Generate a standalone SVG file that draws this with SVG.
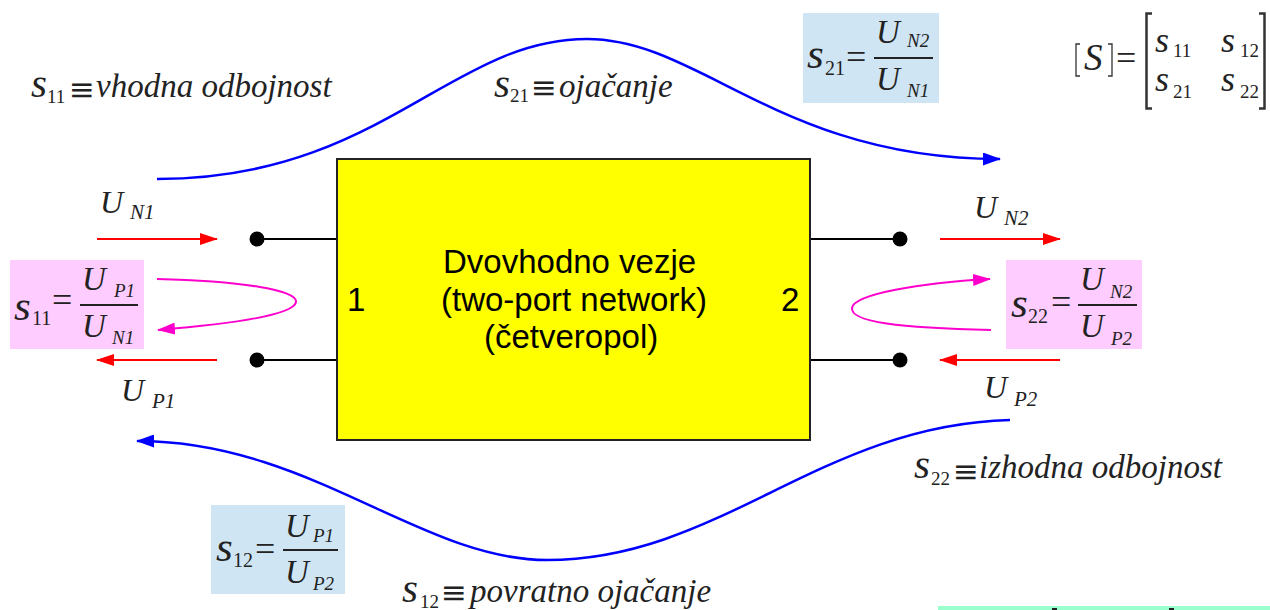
<svg xmlns="http://www.w3.org/2000/svg" width="1270" height="610" viewBox="0 0 1270 610">
<style>
text{fill:#222}
.it{font-family:"Liberation Serif","Times New Roman",serif;font-style:italic}
.rm{font-family:"Liberation Serif","Times New Roman",serif}
.sv{font-size:43px}
.sl{font-size:41px}
.sm{font-size:36px}
.dg{font-size:20px}
.dgs{font-size:19px}
.U{font-size:33px}
.Ul{font-size:32px}
.us{font-size:19px}
.ul{font-size:21px}
.eq{font-size:36px}
.eqv{font-family:"DejaVu Serif","DejaVu Sans",serif;font-size:31px}
.lab{font-size:33px}
.box{font-family:"Liberation Sans",Arial,sans-serif;font-size:33px;fill:#000}
.bar{stroke:#222;stroke-width:2}
.pink{fill:#FFCCFF}
.blue{fill:#CFE5F3}
.term{stroke:#000;stroke-width:2}
.blu{fill:none;stroke:#0000FF;stroke-width:2.5}
.red{fill:none;stroke:#FF0000;stroke-width:2}
.mag{fill:none;stroke:#FF00CC;stroke-width:2}
.brk{fill:none;stroke:#333}
</style>
<defs>
<marker id="ab" markerUnits="userSpaceOnUse" markerWidth="18" markerHeight="13" viewBox="0 0 18 13" refX="17" refY="6.5" orient="auto"><path d="M0,0 L18,6.5 L0,13 z" fill="#0000FF"/></marker>
<marker id="ar" markerUnits="userSpaceOnUse" markerWidth="18" markerHeight="12" viewBox="0 0 18 12" refX="17" refY="6" orient="auto"><path d="M0,0 L18,6 L0,12 z" fill="#FF0000"/></marker>
<marker id="am" markerUnits="userSpaceOnUse" markerWidth="18" markerHeight="12" viewBox="0 0 18 12" refX="17" refY="6" orient="auto"><path d="M0,0 L18,6 L0,12 z" fill="#FF00CC"/></marker>
</defs>
<rect width="1270" height="610" fill="#fff"/>

<g id="connectors">
<path class="blu" d="M157,179 C380,179 450,39 587,39 C700,39 780,159 1000,159" marker-end="url(#ab)"/>
<path class="blu" d="M1010,420 C820,425 720,560 547,560 C420,560 310,441 137,441" marker-end="url(#ab)"/>
<path class="red" d="M97,239 H217" marker-end="url(#ar)"/>
<path class="red" d="M217,360 H97" marker-end="url(#ar)"/>
<path class="red" d="M940,239 H1060" marker-end="url(#ar)"/>
<path class="red" d="M1060,360 H940" marker-end="url(#ar)"/>
<path class="mag" d="M157,279 C240,281 298,290 296,302 C294,315 230,324 158,330" marker-end="url(#am)"/>
<path class="mag" d="M991,330 C900,328 850,322 852,308 C854,294 920,283 990,279" marker-end="url(#am)"/>
<line class="term" x1="257" y1="239" x2="337" y2="239"/>
<line class="term" x1="257" y1="360" x2="337" y2="360"/>
<line class="term" x1="810" y1="239" x2="900" y2="239"/>
<line class="term" x1="810" y1="360" x2="900" y2="360"/>
</g>

<g id="network">
<rect x="337" y="159" width="473" height="281" fill="#FFFF00" stroke="#222" stroke-width="2"/>
<text class="box" x="443" y="273">Dvovhodno vezje</text>
<text class="box" x="441" y="311">(two-port network)</text>
<text class="box" x="484" y="348">(četveropol)</text>
<text class="box" x="347" y="311">1</text>
<text class="box" x="781" y="311">2</text>
</g>

<g id="port1-terminals">
<circle cx="257" cy="239" r="7.5" fill="#000"/>
<circle cx="257" cy="360" r="7.5" fill="#000"/>
</g>
<g id="port2-terminals">
<circle cx="900" cy="239" r="7.5" fill="#000"/>
<circle cx="900" cy="360" r="7.5" fill="#000"/>
</g>

<g id="label-UN1"><text class="it Ul" x="100" y="213">U</text><text class="it ul" x="130" y="219">N1</text></g>
<g id="label-UP1"><text class="it Ul" x="121" y="401">U</text><text class="it ul" x="152" y="408">P1</text></g>
<g id="label-UN2"><text class="it Ul" x="974" y="218">U</text><text class="it ul" x="1004" y="225">N2</text></g>
<g id="label-UP2"><text class="it Ul" x="984" y="398">U</text><text class="it ul" x="1014" y="406">P2</text></g>

<g id="label-s11">
<text class="it sl" x="31" y="97">s</text><text class="rm dgs" x="47" y="103">11</text><text class="eqv" x="69" y="100">≡</text><text class="it lab" x="96" y="97">vhodna odbojnost</text>
</g>
<g id="label-s21">
<text class="it sl" x="494" y="97">s</text><text class="rm dgs" x="510" y="102">21</text><text class="eqv" x="531" y="98">≡</text><text class="it lab" x="559" y="97">ojačanje</text>
</g>
<g id="label-s22">
<text class="it sl" x="914" y="478">s</text><text class="rm dgs" x="931" y="485">22</text><text class="eqv" x="953" y="482">≡</text><text class="it lab" x="979" y="478">izhodna odbojnost</text>
</g>
<g id="label-s12">
<text class="it sl" x="402" y="602">s</text><text class="rm dgs" x="420" y="608">12</text><text class="eqv" x="441" y="603">≡</text><text class="it lab" x="470" y="602">povratno ojačanje</text>
</g>

<g id="formula-s11">
<rect class="pink" x="10" y="260" width="134" height="89"/>
<text class="it sv" x="14" y="320">s</text><text class="rm dg" x="32" y="325">11</text>
<text class="rm eq" x="52" y="312">=</text>
<line class="bar" x1="80" y1="305" x2="138" y2="305"/>
<text class="it U" x="82" y="290">U</text><text class="it us" x="114" y="297">P1</text>
<text class="it U" x="82" y="337">U</text><text class="it us" x="112" y="344">N1</text>
</g>

<g id="formula-s22">
<rect class="pink" x="1006" y="260" width="136" height="89"/>
<text class="it sv" x="1011" y="317">s</text><text class="rm dg" x="1028" y="323">22</text>
<text class="rm eq" x="1051" y="314">=</text>
<line class="bar" x1="1078" y1="305" x2="1137" y2="305"/>
<text class="it U" x="1080" y="290">U</text><text class="it us" x="1110" y="298">N2</text>
<text class="it U" x="1080" y="337">U</text><text class="it us" x="1111" y="345">P2</text>
</g>

<g id="formula-s21">
<rect class="blue" x="803" y="13" width="136" height="90"/>
<text class="it sv" x="807" y="68">s</text><text class="rm dg" x="825" y="75">21</text>
<text class="rm eq" x="846" y="69">=</text>
<line class="bar" x1="874" y1="58" x2="933" y2="58"/>
<text class="it U" x="876" y="43">U</text><text class="it us" x="907" y="47">N2</text>
<text class="it U" x="876" y="90">U</text><text class="it us" x="907" y="97">N1</text>
</g>

<g id="formula-s12">
<rect class="blue" x="211" y="505" width="134" height="89"/>
<text class="it sv" x="216" y="561">s</text><text class="rm dg" x="233" y="567">12</text>
<text class="rm eq" x="255" y="561">=</text>
<line class="bar" x1="283" y1="550" x2="338" y2="550"/>
<text class="it U" x="285" y="537">U</text><text class="it us" x="313" y="542">P1</text>
<text class="it U" x="285" y="583">U</text><text class="it us" x="313" y="590">P2</text>
</g>

<g id="matrix-S">
<path class="brk" stroke-width="1.3" d="M1080,44 H1076 V76 H1080"/>
<text class="it" style="font-size:37px" x="1084" y="70">S</text>
<path class="brk" stroke-width="1.3" d="M1108,44 H1112 V76 H1108"/>
<text class="rm eq" x="1116" y="70">=</text>
<path class="brk" stroke-width="2.5" d="M1152,13.5 H1146.5 V108.5 H1152"/>
<path class="brk" stroke-width="2.5" d="M1259,13.5 H1264.5 V108.5 H1259"/>
<text class="it sm" x="1155" y="52">s</text><text class="rm dgs" x="1173" y="57">11</text>
<text class="it sm" x="1221" y="52">s</text><text class="rm dgs" x="1240" y="57">12</text>
<text class="it sm" x="1155" y="91">s</text><text class="rm dgs" x="1173" y="98">21</text>
<text class="it sm" x="1221" y="91">s</text><text class="rm dgs" x="1240" y="98">22</text>
</g>

<g id="cutoff-bar">
<rect x="938" y="606" width="332" height="4" fill="#99FFCC"/>
<rect x="1052" y="608" width="5" height="2" fill="#222"/>
<rect x="1169" y="608" width="5" height="2" fill="#222"/>
</g>
</svg>
